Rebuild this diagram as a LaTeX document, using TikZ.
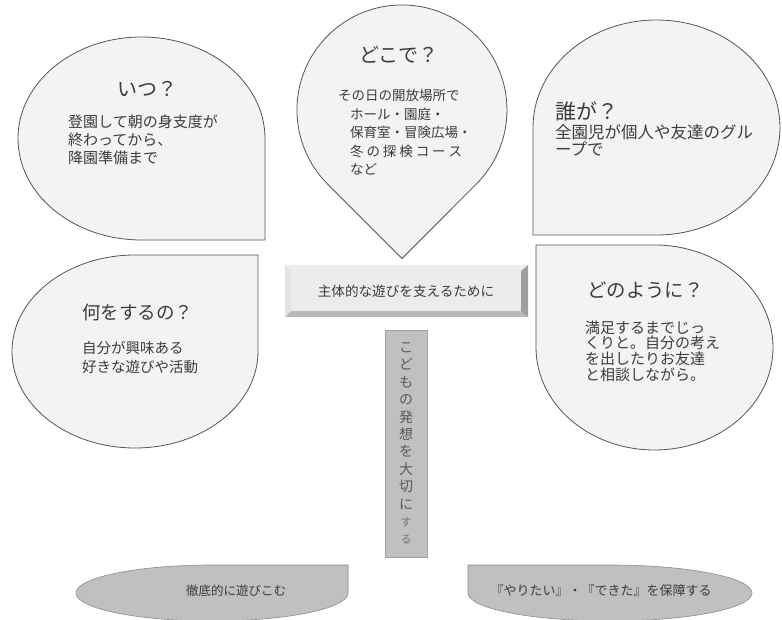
\documentclass[tikz,border=0pt]{standalone}
\usepackage{fontspec}
\setmainfont{Noto Sans CJK JP}
\usepackage{xcolor}
\usetikzlibrary{positioning}

\definecolor{dropfill}{HTML}{F3F3F3}
\definecolor{dropline}{HTML}{555555}
\definecolor{inkgray}{HTML}{3C3C3C}
\definecolor{padfill}{HTML}{C0C0C0}
\definecolor{padline}{HTML}{8C8C8C}
\newcommand{\kgap}{\hspace{2.9pt}}

\begin{document}
\begin{tikzpicture}[x=1pt,y=1pt,
        drop/.style={fill=dropfill,draw=dropline,line width=0.8pt},
        pad/.style={fill=padfill,draw=padline,line width=0.6pt},
        title/.style={inner sep=0pt,text=inkgray,font=\fontsize{20}{24}\selectfont},
        body/.style={inner sep=0pt,align=left,text=inkgray,anchor=north west}]
    \useasboundingbox (0,0) rectangle (782,619);
    % four petals and the pin
    \draw[drop] (265,379) -- (265,480.5) arc[start angle=0,end angle=270,x radius=123.5,y radius=101.5] -- cycle;
    \draw[drop] (402,360.5) -- (476.2,434.8) arc[start angle=-45,end angle=225,radius=105] -- cycle;
    \draw[drop] (533,384) -- (656.5,384) arc[start angle=-90,end angle=180,x radius=123.5,y radius=107.5] -- cycle;
    \draw[drop] (258,364) -- (135,364) arc[start angle=90,end angle=360,x radius=123,y radius=96.5] -- cycle;
    \draw[drop] (536,374) -- (536,271.5) arc[start angle=180,end angle=450,x radius=118.5,y radius=102.5] -- cycle;
    % lower pads
    \draw[pad] (348,54) -- (212,54) arc[start angle=90,end angle=360,x radius=136,y radius=28] -- cycle;
    \draw[pad] (468,54) -- (468,26) arc[start angle=180,end angle=450,x radius=142,y radius=28] -- cycle;
    % bevel frame
    \fill[gray!14] (285,354) -- (528,354) -- (521,348) -- (291,348) -- cycle;
    \fill[gray!22] (285,354) -- (291,348) -- (291,308) -- (285,302) -- cycle;
    \fill[gray!55] (285,302) -- (528,302) -- (521,308) -- (291,308) -- cycle;
    \fill[gray!75] (528,354) -- (528,302) -- (521,308) -- (521,348) -- cycle;

    \node[title] (itsu) at (147,530) {いつ？};
    \node[body,font=\fontsize{15}{18}\selectfont] (itsutext) at (68,504.5)
        {登園して朝の身支度が\\終わってから、\\降園準備まで};

    \node[title] (doko) at (399,564) {どこで？};
    \node[body,font=\fontsize{13.5}{18.5}\selectfont] (dokotext) at (338,530)
        {その日の開放場所で\\\hspace*{12pt}ホール・園庭・\\\hspace*{12pt}保育室・冒険広場・\\
         \hspace*{12pt}冬\kgap の\kgap 探\kgap 検\kgap コ\kgap ー\kgap ス\\\hspace*{12pt}など};

    \node[title,anchor=west,font=\fontsize{21}{25}\selectfont] (dare) at (555,508) {誰が？};
    \node[body,font=\fontsize{16.5}{17}\selectfont] (daretext) at (555,495)
        {全園児が個人や友達のグル\\ープで};

    \node[title,anchor=west,font=\fontsize{18.5}{22}\selectfont] (nani) at (82,307) {何をするの？};
    \node[body,font=\fontsize{14.5}{19}\selectfont] (nanitext) at (82,278)
        {自分が興味ある\\好きな遊びや活動};

    \node[title,anchor=west,font=\fontsize{19.4}{23}\selectfont] (douyouni) at (587,329) {どのように？};
    \node[body,font=\fontsize{15}{15.7}\selectfont] (douyounitext) at (585,298.5)
        {満足するまでじっ\\くりと。自分の考え\\を出したりお友達\\と相談しながら。};

    \node[fill=gray!15,minimum width=230pt,minimum height=40pt,
        inner sep=0pt,text=inkgray,font=\fontsize{13.6}{16}\selectfont] (shutai) at (406,328)
        {主体的な遊びを支えるために};

    \node[fill=padfill,draw=gray!75,line width=0.6pt,minimum width=42pt,minimum height=227pt,
        inner sep=0pt,align=center,text=inkgray!85,font=\fontsize{14}{17.4}\selectfont] (tate) at (406,175.5)
        {こ\\ど\\も\\の\\発\\想\\を\\大\\切\\に\\{\fontsize{11}{17.4}\selectfont\color{gray!90!black}す}\\{\fontsize{11}{17.4}\selectfont\color{gray!90!black}る}};

    \node[inner sep=0pt,text=inkgray,font=\fontsize{12.5}{15}\selectfont] (tettei) at (236,28) {徹底的に遊びこむ};
    \node[inner sep=0pt,text=inkgray,font=\fontsize{13}{15}\selectfont] (hosho) at (601,28) {『やりたい』・『できた』を保障する};
\end{tikzpicture}
\end{document}
